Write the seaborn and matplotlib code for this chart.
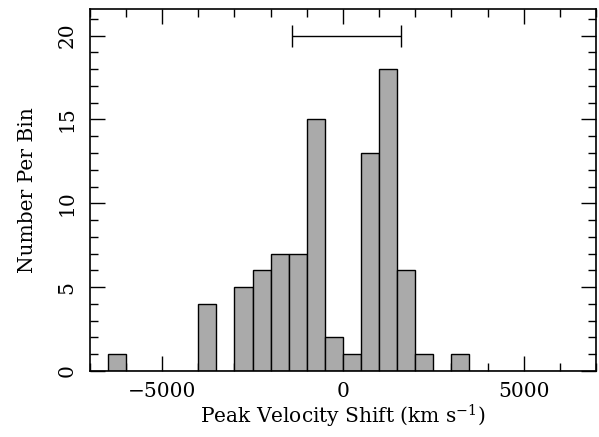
import numpy as np
import pandas as pd
import matplotlib
matplotlib.use("Agg")
import matplotlib.pyplot as plt
import seaborn as sns
from matplotlib.ticker import MultipleLocator

# Histogram data (bin left edges in km/s, counts)
bin_left = [-6500, -4000, -3000, -2500, -2000, -1500, -1000, -500, 0, 500, 1000, 1500, 2000, 3000]
counts = [1, 4, 5, 6, 7, 7, 15, 2, 1, 13, 18, 6, 1, 1]
bin_width = 500

# Error-bar marker at the top
err_center = 100
err_half = 1500
err_y = 20

sns.set_theme(style="ticks")
plt.rcParams['font.family'] = ['DejaVu Serif']
plt.rcParams['mathtext.fontset'] = 'dejavuserif'

df = pd.DataFrame({"v": np.array(bin_left) + bin_width / 2, "n": counts})

fig = plt.figure(figsize=(5.99, 4.37), dpi=100)
ax = fig.add_axes([0.150, 0.151, 0.845, 0.829])

sns.histplot(data=df, x="v", weights="n", binwidth=bin_width, binrange=(-7000, 7000), ax=ax,
             color="#aaaaaa", edgecolor="black", linewidth=1.0, alpha=1.0)

ax.errorbar([err_center], [err_y], xerr=[err_half], color="black", lw=1.0,
            capsize=8, capthick=1.0, fmt="none")

ax.set_xlim(-7000, 7000)
ax.set_ylim(0, 21.6)
ax.xaxis.set_major_locator(MultipleLocator(5000))
ax.xaxis.set_minor_locator(MultipleLocator(1000))
ax.yaxis.set_major_locator(MultipleLocator(5))
ax.yaxis.set_minor_locator(MultipleLocator(1))
ax.tick_params(which="both", direction="in", top=True, right=True, colors="black",
               labelsize=14.5, width=1.0)
ax.tick_params(which="major", length=11)
ax.tick_params(which="minor", length=6)
ax.tick_params(axis="x", which="major", pad=8)
ax.tick_params(axis="y", which="major", pad=9.5)
for lab in ax.get_yticklabels():
    lab.set_rotation(90)
    lab.set_va("center")
for s in ax.spines.values():
    s.set_visible(True)
    s.set_color("black")
    s.set_linewidth(1.2)

ax.set_xlabel("Peak Velocity Shift (km s$^{-1}$)", fontsize=14.5, color="black", labelpad=1)
ax.set_ylabel("Number Per Bin", fontsize=14.5, color="black", labelpad=15)

fig.savefig("out.png", dpi=100)
